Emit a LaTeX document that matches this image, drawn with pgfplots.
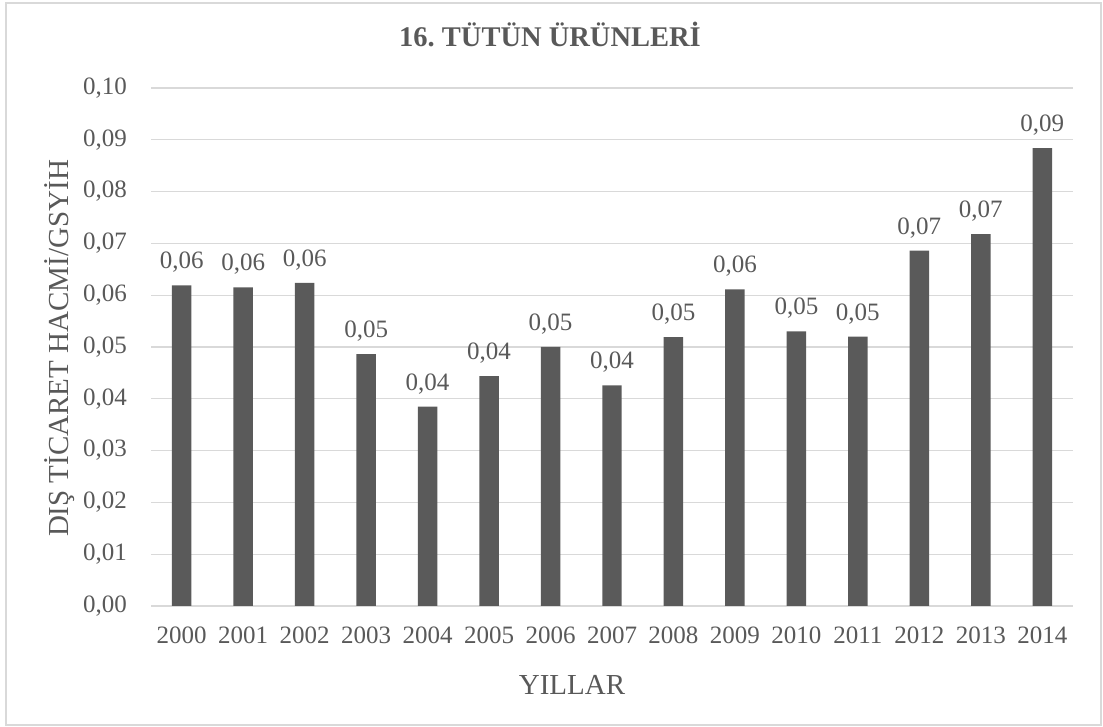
\documentclass[border=0pt]{standalone}
\usepackage{pgfplots}
\pgfplotsset{compat=1.18}
\usepackage{fontspec}
\setmainfont{Liberation Serif}
\frenchspacing
\definecolor{txt}{HTML}{595959}
\definecolor{barc}{HTML}{5A5A5A}
\definecolor{gridc}{HTML}{D9D9D9}
\begin{document}
\begin{tikzpicture}[x=1pt,y=1pt]
\useasboundingbox (0,0) rectangle (1103,727);
\draw[gridc, line width=1.3pt] (6,2) rectangle (1101,724);
\begin{axis}[
  at={(151pt,121pt)}, anchor=south west,
  width=922pt, height=518pt, scale only axis,
  xmin=-0.5, xmax=14.5, ymin=0, ymax=0.1,
  xtick={0,1,2,3,4,5,6,7,8,9,10,11,12,13,14},
  xticklabels={2000,2001,2002,2003,2004,2005,2006,2007,2008,2009,2010,2011,2012,2013,2014},
  ytick={0,0.01,0.02,0.03,0.04,0.05,0.06,0.07,0.08,0.09,0.10},
  scaled y ticks=false,
  /pgf/number format/.cd, fixed, fixed zerofill, precision=2, use comma, assume math mode=true,
  /pgfplots/.cd,
  axis line style={draw=none},
  major tick length=0pt,
  ymajorgrids, grid style={gridc, line width=1.3pt},
  tick label style={font=\fontsize{25}{30}\selectfont, text=txt},
  yticklabel style={anchor=east, inner sep=0pt, xshift=-24pt},
  xticklabel style={anchor=north, inner sep=0pt, yshift=-21pt},
  ybar, bar width=0.317,
  nodes near coords,
  nodes near coords style={anchor=base, inner sep=0pt, yshift=16.5pt, font=\fontsize{25}{30}\selectfont, text=txt},
]
\addplot[fill=barc, draw=none] coordinates {
(0,0.0619)(1,0.0615)(2,0.0624)(3,0.0486)(4,0.0385)(5,0.0444)(6,0.0500)(7,0.0426)
(8,0.0519)(9,0.0611)(10,0.0530)(11,0.0520)(12,0.0686)(13,0.0718)(14,0.0884)};
\end{axis}
\node[anchor=base, inner sep=0pt, text=txt, font=\fontsize{28.5}{34}\selectfont\bfseries] at (550,680) {16. TÜTÜN ÜRÜNLERİ};
\node[anchor=base, inner sep=0pt, text=txt, font=\fontsize{29}{34}\selectfont] at (572,32) {YILLAR};
\node[anchor=base, rotate=90, inner sep=0pt, text=txt, font=\fontsize{29}{34}\selectfont] at (68,378.5) {DIŞ TİCARET HACMİ/GSYİH};
\end{tikzpicture}
\end{document}
